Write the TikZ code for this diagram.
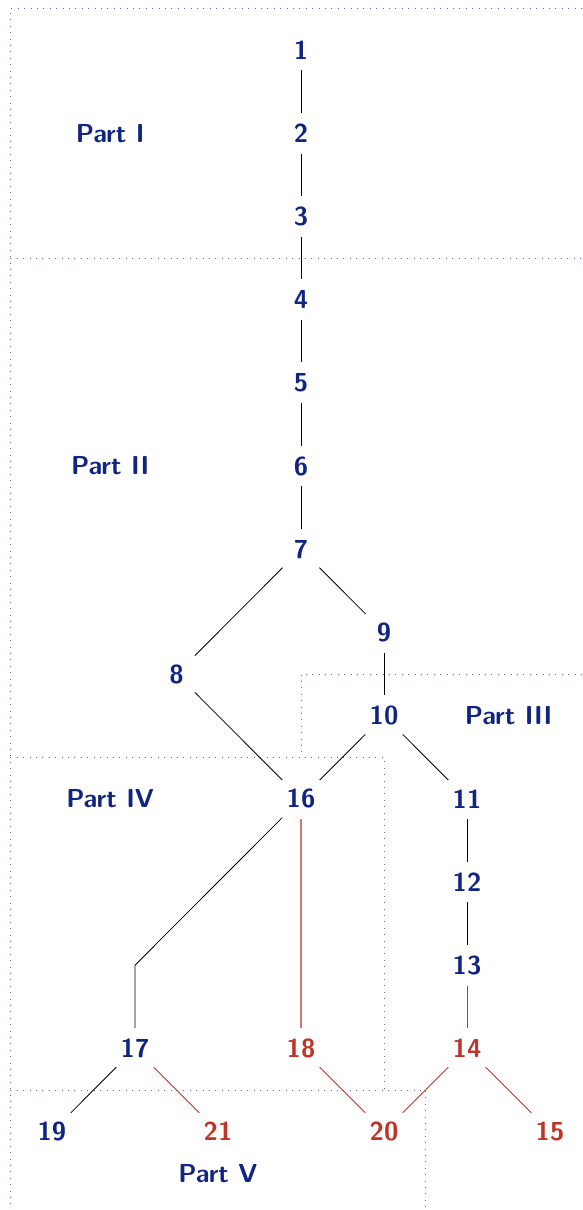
\documentclass[tikz,border=0pt]{standalone}
\usepackage{tikz}
\definecolor{nblue}{RGB}{16,36,130}
\definecolor{nred}{RGB}{192,52,40}
\definecolor{lred}{RGB}{214,120,112}
\definecolor{dotblue}{RGB}{90,100,195}
\begin{document}
\begin{tikzpicture}[x=41.5pt,y=-41.6pt,
  nd/.style={rectangle,inner sep=2pt,minimum width=18pt,minimum height=20pt,
    font=\fontsize{13}{15}\selectfont\sffamily\bfseries,text=nblue},
  rd/.style={nd,text=nred},
  part/.style={font=\fontsize{13}{15}\selectfont\sffamily\bfseries,text=nblue},
  edge/.style={draw=black,line width=0.4pt},
  redge/.style={draw=nred,line width=0.45pt},
  ledge/.style={draw=lred,line width=0.6pt},
  sep/.style={draw=dotblue,line width=0.5pt,dash pattern=on 0.5pt off 2.7pt}]
\useasboundingbox (-0.6265,-0.601) rectangle (6.3855,13.942);
% separators
\draw[sep] (6.3855,-0.5) -- (-0.5,-0.5) -- (-0.5,13.942);
\draw[sep] (-0.5,2.5) -- (6.3855,2.5);
\draw[sep] (6.3855,7.5) -- (3,7.5) -- (3,8.5);
\draw[sep] (-0.5,8.5) -- (4,8.5) -- (4,12.5);
\draw[sep] (-0.5,12.5) -- (4.5,12.5) -- (4.5,13.942);
% part labels
\node[part] (p1) at (0.7,1) {Part I};
\node[part] (p2) at (0.7,5) {Part II};
\node[part] (p3) at (5.5,8) {Part III};
\node[part] (p4) at (0.7,9) {Part IV};
\node[part] (p5) at (2,13.5) {Part V};
% nodes
\node[nd] (n1) at (3,0) {1};
\node[nd] (n2) at (3,1) {2};
\node[nd] (n3) at (3,2) {3};
\node[nd] (n4) at (3,3) {4};
\node[nd] (n5) at (3,4) {5};
\node[nd] (n6) at (3,5) {6};
\node[nd] (n7) at (3,6) {7};
\node[nd] (n8) at (1.5,7.5) {8};
\node[nd] (n9) at (4,7) {9};
\node[nd] (n10) at (4,8) {10};
\node[nd] (n11) at (5,9) {11};
\node[nd] (n12) at (5,10) {12};
\node[nd] (n13) at (5,11) {13};
\node[rd] (n14) at (5,12) {14};
\node[rd] (n15) at (6,13) {15};
\node[nd] (n16) at (3,9) {16};
\node[nd] (n17) at (1,12) {17};
\node[rd] (n18) at (3,12) {18};
\node[nd] (n19) at (0,13) {19};
\node[rd] (n20) at (4,13) {20};
\node[rd] (n21) at (2,13) {21};
\coordinate (k17) at (1,11);
% edges
\draw[edge] (n1) -- (n2);
\draw[edge] (n2) -- (n3);
\draw[edge] (n3) -- (n4);
\draw[edge] (n4) -- (n5);
\draw[edge] (n5) -- (n6);
\draw[edge] (n6) -- (n7);
\draw[edge] (n7) -- (n8);
\draw[edge] (n7) -- (n9);
\draw[edge] (n9) -- (n10);
\draw[edge] (n8) -- (n16);
\draw[edge] (n10) -- (n16);
\draw[edge] (n10) -- (n11);
\draw[edge] (n11) -- (n12);
\draw[edge] (n12) -- (n13);
\draw[redge] (n13) -- (n14);
\draw[redge] (n14) -- (n15);
\draw[redge] (n14) -- (n20);
\draw[edge] (n16) -- (k17) -- (n17);
\draw[ledge] (n16) -- (n18);
\draw[edge] (n17) -- (n19);
\draw[redge] (n17) -- (n21);
\draw[redge] (n18) -- (n20);
\end{tikzpicture}
\end{document}
